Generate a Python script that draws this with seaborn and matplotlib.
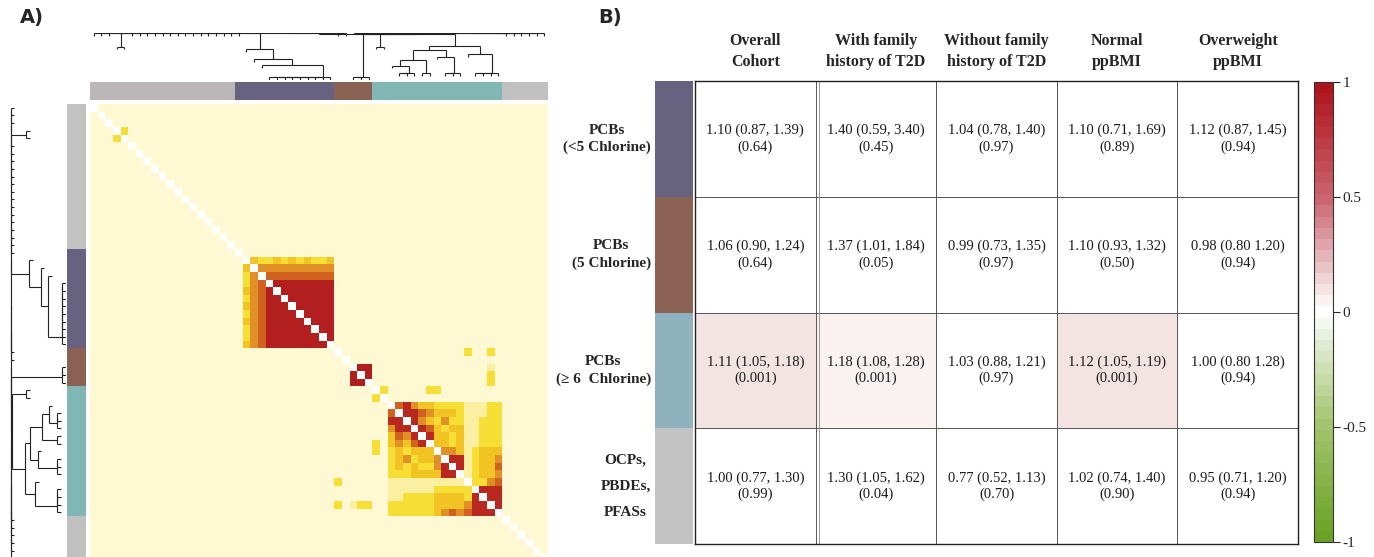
import numpy as np
import matplotlib
matplotlib.use("Agg")
import matplotlib.pyplot as plt
from matplotlib.colors import LinearSegmentedColormap, ListedColormap
from matplotlib.collections import LineCollection
import seaborn as sns

# panel A: chemical groups along the clustered correlation matrix
group_sizes = [19, 13, 5, 17, 6]
group_colors = ["#BBB7B9", "#67627F", "#8A6253", "#80B6B3", "#C0C0C0"]

# correlation levels (lower triangle, row: (first col, levels))
level_values = {".": 0.02, "1": 0.15, "2": 0.30, "3": 0.42,
                "4": 0.56, "5": 0.70, "6": 0.86, "7": 0.95}
corr_rows = {
    4: (3, "2"),
    21: (19, ".3"),
    22: (19, ".24"),
    23: (19, ".245"),
    24: (19, ".3457"),
    25: (19, ".24577"),
    26: (19, ".345777"),
    27: (19, ".2457777"),
    28: (19, ".34577777"),
    29: (19, ".245777777"),
    30: (19, ".2457777777"),
    31: (19, ".34577777777"),
    35: (34, "7"),
    36: (34, "77"),
    38: (37, "2"),
    40: (39, "5"),
    41: (39, "66"),
    42: (39, "466"),
    43: (39, "3546"),
    44: (37, "2.34356"),
    45: (37, "2.232333"),
    46: (39, "2342334"),
    47: (39, "23232246"),
    48: (39, "222333366"),
    49: (32, "2......1111111111"),
    50: (39, "11111122222"),
    51: (39, "112222333326"),
    52: (32, "2.122..2222223333466"),
    53: (39, "22222234545666"),
}

# panel B: odds ratios table
cohorts = ["Overall\nCohort", "With family\nhistory of T2D", "Without family\nhistory of T2D",
           "Normal\nppBMI", "Overweight\nppBMI"]
exposures = ["PCBs\n(<5 Chlorine)", "PCBs\n(5 Chlorine)", "PCBs\n(\u2265 6  Chlorine)",
             "OCPs,\nPBDEs,\nPFASs"]
exposure_colors = ["#67627F", "#8A6152", "#8FB2BE", "#C3C3C3"]
or_ci = [
    ["1.10 (0.87, 1.39)", "1.40 (0.59, 3.40)", "1.04 (0.78, 1.40)", "1.10 (0.71, 1.69)", "1.12 (0.87, 1.45)"],
    ["1.06 (0.90, 1.24)", "1.37 (1.01, 1.84)", "0.99 (0.73, 1.35)", "1.10 (0.93, 1.32)", "0.98 (0.80 1.20)"],
    ["1.11 (1.05, 1.18)", "1.18 (1.08, 1.28)", "1.03 (0.88, 1.21)", "1.12 (1.05, 1.19)", "1.00 (0.80 1.28)"],
    ["1.00 (0.77, 1.30)", "1.30 (1.05, 1.62)", "0.77 (0.52, 1.13)", "1.02 (0.74, 1.40)", "0.95 (0.71, 1.20)"],
]
p_vals = [
    ["0.64", "0.45", "0.97", "0.89", "0.94"],
    ["0.64", "0.05", "0.97", "0.50", "0.94"],
    ["0.001", "0.001", "0.97", "0.001", "0.94"],
    ["0.99", "0.04", "0.70", "0.90", "0.94"],
]
shade = [
    [0, 0, 0, 0, 0],
    [0, 0, 0, 0, 0],
    [0.1, 0.05, 0, 0.1, 0],
    [0, 0, 0, 0, 0],
]


def dendro_segments(dist, hang):
    # adjacent-only average linkage, so the leaf order stays as in the matrix
    clusters = [[i] for i in range(len(dist))]
    xs = [i + 0.5 for i in range(len(dist))]
    hs = [None] * len(dist)
    segs = []
    h = 0
    while len(clusters) > 1:
        gaps = np.round([dist[np.ix_(clusters[k], clusters[k + 1])].mean()
                         for k in range(len(clusters) - 1)], 6)
        k = int(np.argmin(gaps))
        h = gaps[k]
        for j in (k, k + 1):
            low = hs[j] if hs[j] is not None else h - hang
            segs.append([(xs[j], low), (xs[j], h)])
        segs.append([(xs[k], h), (xs[k + 1], h)])
        clusters[k:k + 2] = [clusters[k] + clusters[k + 1]]
        xs[k:k + 2] = [(xs[k] + xs[k + 1]) / 2]
        hs[k:k + 2] = [h]
    return segs, h


n = sum(group_sizes)
corr = np.full((n, n), level_values["."])
for r, (c0, s) in corr_rows.items():
    for k, ch in enumerate(s):
        corr[r, c0 + k] = corr[c0 + k, r] = level_values[ch]
np.fill_diagonal(corr, 1.0)
group_of = np.repeat(np.arange(len(group_sizes)), group_sizes)

sns.set_style("white")
plt.rcParams["font.family"] = ["Liberation Serif", "DejaVu Serif"]

fig = plt.figure(figsize=(13.74, 5.57), dpi=100)
W, H = 1374, 557


def box(x0, y0, x1, y1):
    return [x0 / W, 1 - y1 / H, (x1 - x0) / W, (y1 - y0) / H]


# ---------------- panel A ----------------
cmap_a = LinearSegmentedColormap.from_list("corr", [
    (0.00, "#FEF9D8"), (0.10, "#FCF3BC"), (0.20, "#FAEA84"), (0.30, "#F6DE33"),
    (0.42, "#F1C424"), (0.56, "#E09026"), (0.70, "#D0621F"), (0.85, "#B9291E"),
    (1.00, "#AF1A1E")])

ax_hm = fig.add_axes(box(90, 104, 548, 562))
ax_hm.set_facecolor("white")
sns.heatmap(corr, mask=np.eye(n, dtype=bool), cmap=cmap_a, vmin=0, vmax=1,
            cbar=False, xticklabels=False, yticklabels=False, ax=ax_hm)

ax_top = fig.add_axes(box(90, 82, 548, 100))
sns.heatmap(group_of.reshape(1, -1), cmap=ListedColormap(group_colors), cbar=False,
            xticklabels=False, yticklabels=False, ax=ax_top)
ax_left = fig.add_axes(box(67, 104, 86, 562))
left_colors = ["#C2C2C2"] + group_colors[1:]
sns.heatmap(group_of.reshape(-1, 1), cmap=ListedColormap(left_colors), cbar=False,
            xticklabels=False, yticklabels=False, ax=ax_left)

hang = 0.06
segs, root = dendro_segments(1 - corr, hang)
low = min(min(p[0][1], p[1][1]) for p in segs)

ax_dt = fig.add_axes(box(90, 33, 548, 80))
ax_dt.add_collection(LineCollection(segs, colors="#222222", linewidths=0.8))
ax_dt.set_xlim(0, n)
ax_dt.set_ylim(low - 0.005, root + 0.01)
ax_dt.axis("off")

ax_dl = fig.add_axes(box(10, 104, 66, 562))
ax_dl.add_collection(LineCollection([[(p[1], p[0]) for p in s] for s in segs],
                                    colors="#222222", linewidths=0.8))
ax_dl.set_xlim(root + 0.01, low - 0.005)
ax_dl.set_ylim(n, 0)
ax_dl.axis("off")

fig.text(20 / W, 1 - 18 / H, "A)", fontsize=14, fontweight="black",
         family="DejaVu Sans", va="center")
fig.text(598 / W, 1 - 18 / H, "B)", fontsize=14, fontweight="black",
         family="DejaVu Sans", va="center")

# ---------------- panel B ----------------
cmap_b = LinearSegmentedColormap.from_list("or", [
    (0.00, "#6AA225"), (0.25, "#A3C46E"), (0.45, "#E8F0DE"), (0.50, "#FFFFFF"),
    (0.55, "#F4E3E3"), (0.75, "#CB6570"), (1.00, "#AE141B")], N=41)

labels = np.array([[f"{o}\n({p})" for o, p in zip(ro, rp)] for ro, rp in zip(or_ci, p_vals)])

ax_tb = fig.add_axes(box(695, 81, 1298, 544))
ax_cb = fig.add_axes(box(1314, 82, 1333, 542))
sns.heatmap(np.array(shade), cmap=cmap_b, vmin=-1, vmax=1, annot=labels, fmt="",
            annot_kws={"fontsize": 10.5, "color": "#1a1a1a", "linespacing": 1.3},
            linewidths=0.7, linecolor="#5a5a5a", xticklabels=cohorts, yticklabels=False,
            cbar_ax=ax_cb, cbar_kws={"ticks": [1, 0.5, 0, -0.5, -1]}, ax=ax_tb)
ax_tb.axvline(1.025, color="#888888", lw=0.6)
for sp in ax_tb.spines.values():
    sp.set_visible(True)
    sp.set_color("#222222")
    sp.set_linewidth(1.0)
ax_tb.xaxis.tick_top()
ax_tb.tick_params(axis="x", length=0, pad=8)
for t in ax_tb.get_xticklabels():
    t.set_fontweight("bold")
    t.set_fontsize(11.5)
    t.set_rotation(0)
    t.set_linespacing(1.4)

ax_rb = fig.add_axes(box(655, 81, 693, 544))
sns.heatmap(np.arange(len(exposures)).reshape(-1, 1), cmap=ListedColormap(exposure_colors),
            cbar=False, xticklabels=False, yticklabels=exposures, ax=ax_rb)
ax_rb.tick_params(axis="y", length=0, pad=3)
for i, t in enumerate(ax_rb.get_yticklabels()):
    t.set_fontweight("bold")
    t.set_fontsize(11)
    t.set_rotation(0)
    t.set_multialignment("center")
    t.set_linespacing(2.3 if i == len(exposures) - 1 else 1.4)

cbar = ax_tb.collections[0].colorbar
cbar.ax.set_yticklabels(["1", "0.5", "0", "-0.5", "-1"])
cbar.ax.tick_params(length=5, width=0.8, labelsize=11, pad=2)
cbar.outline.set_edgecolor("#333333")
cbar.outline.set_linewidth(0.8)

fig.savefig("out.png", dpi=100)
